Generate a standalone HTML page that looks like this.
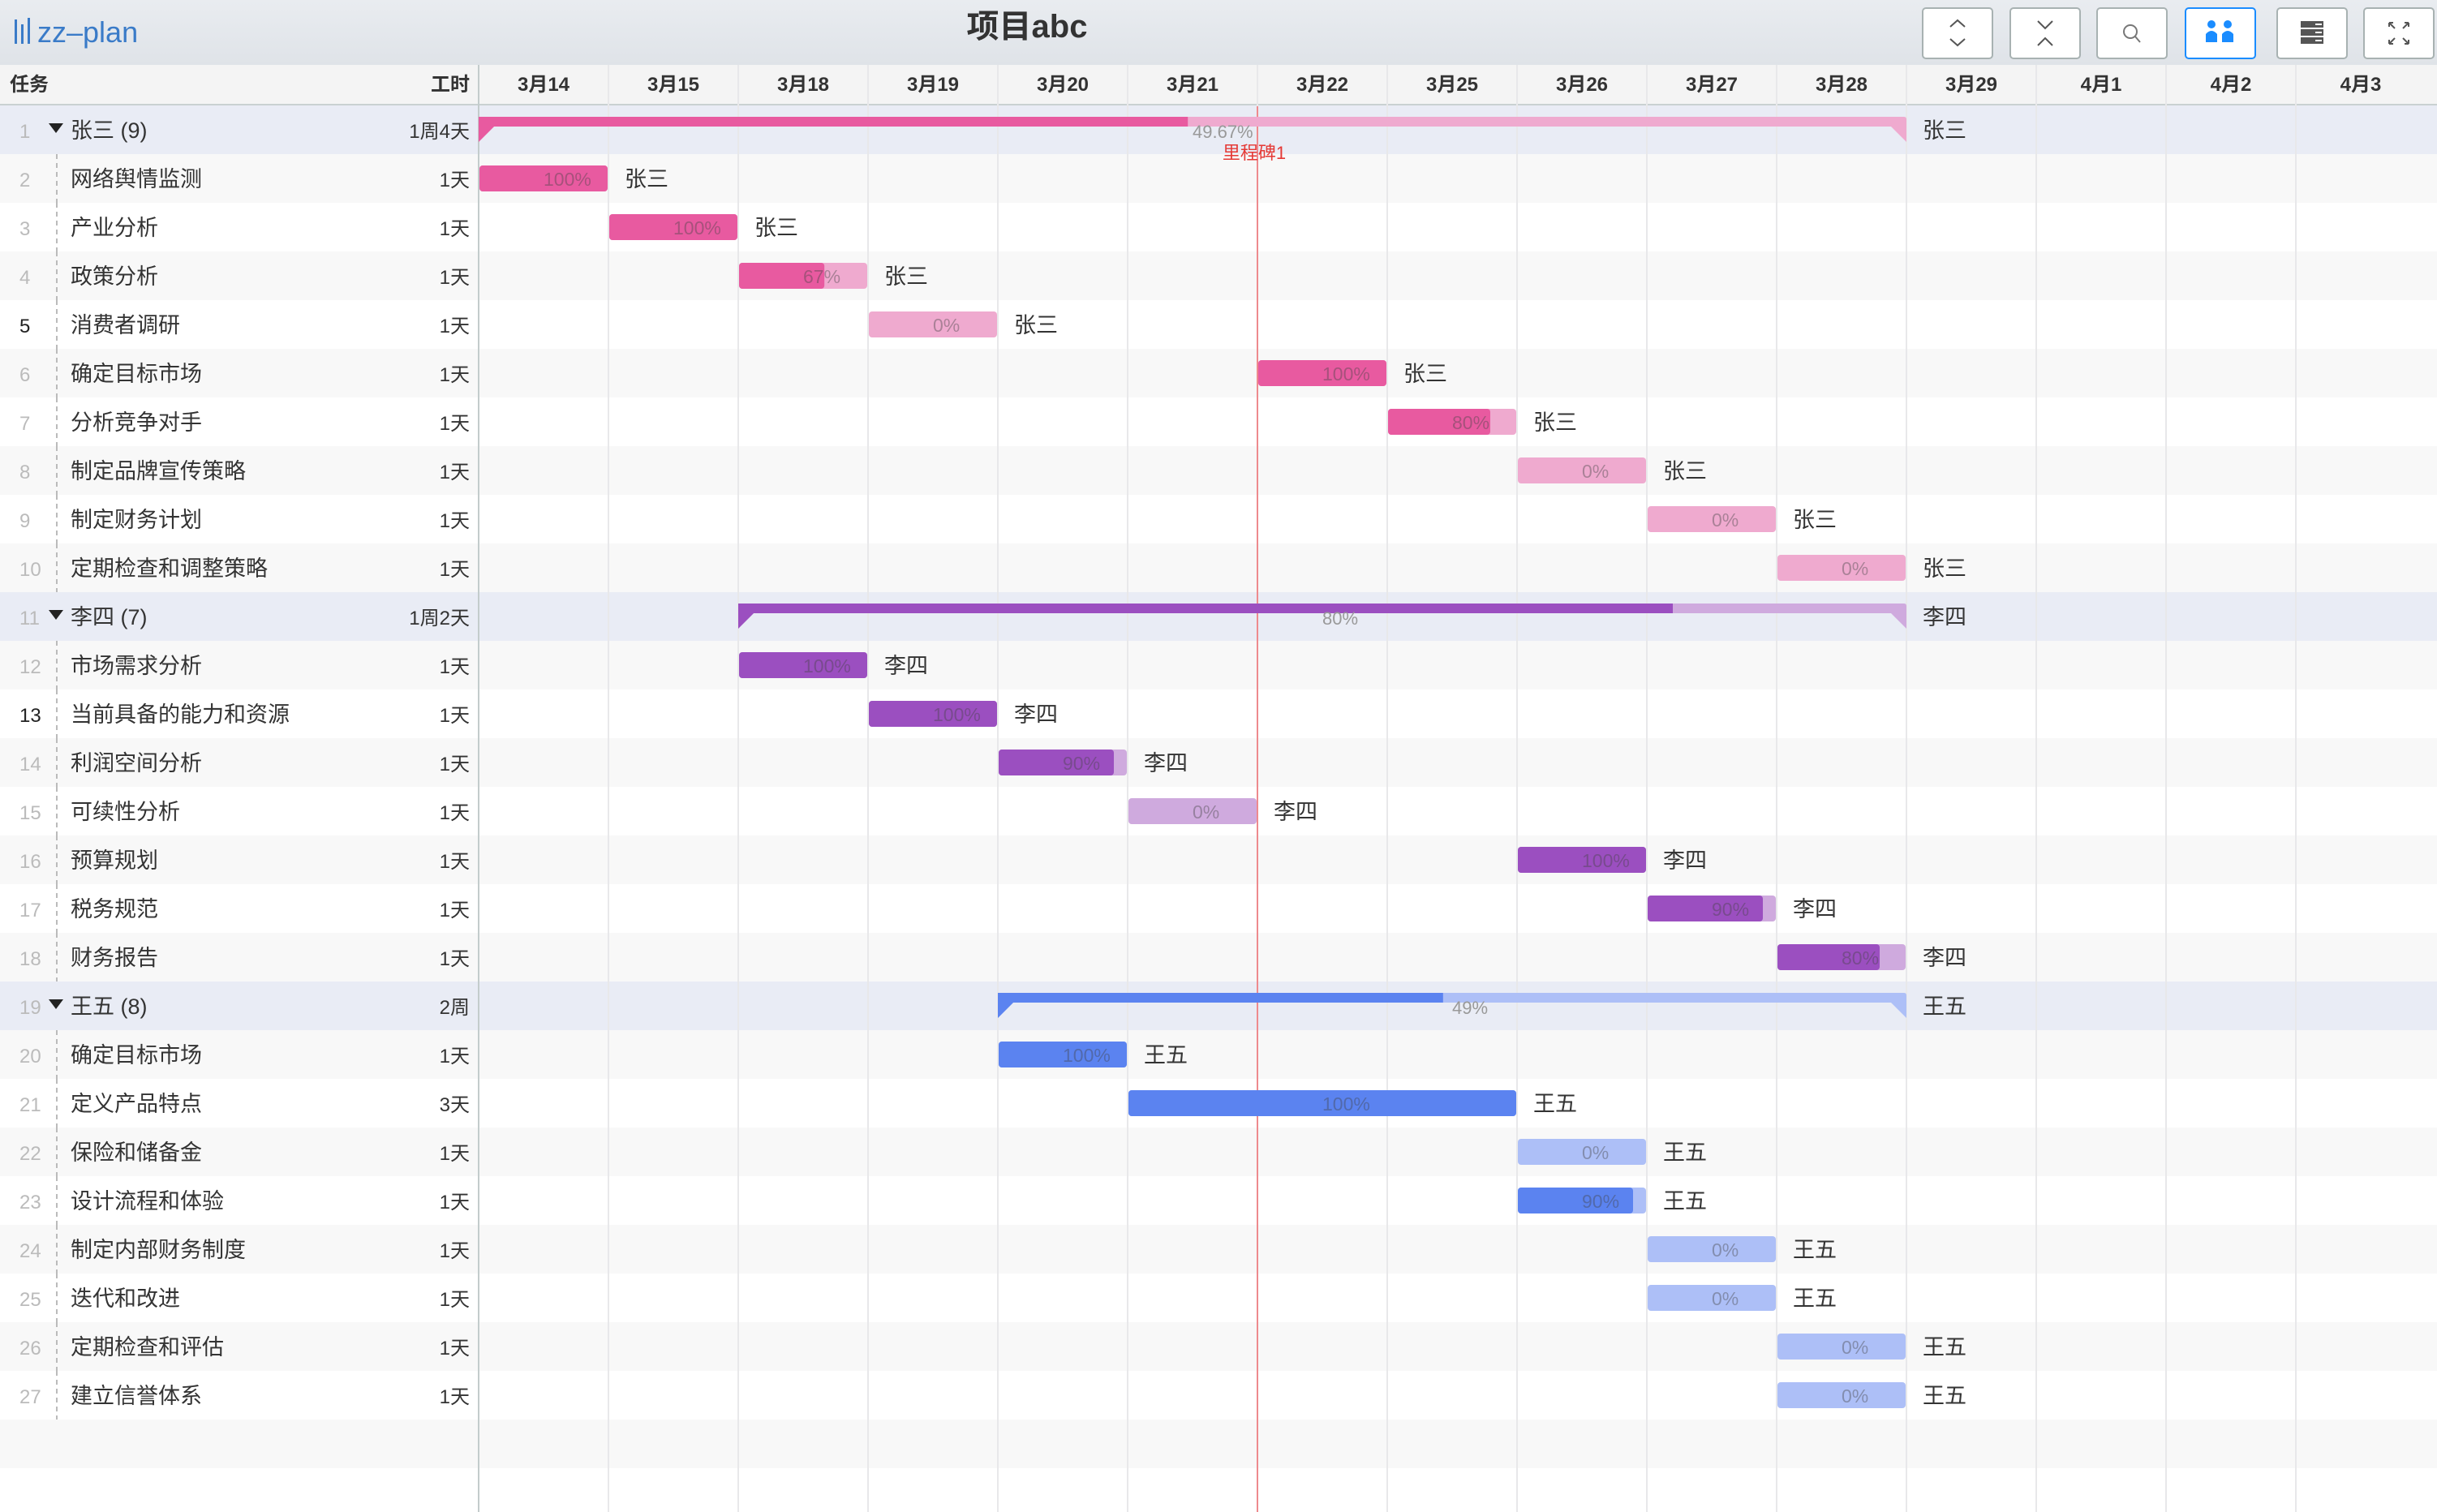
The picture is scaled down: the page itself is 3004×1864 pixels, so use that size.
<!DOCTYPE html>
<html><head><meta charset="utf-8"><style>
html,body{margin:0;padding:0;width:3004px;height:1864px;overflow:hidden;background:#fff;font-family:"Liberation Sans","Noto Sans CJK SC",sans-serif;}
svg text{font-family:"Liberation Sans","Noto Sans CJK SC",sans-serif;}
</style></head><body>
<svg id="g" width="3004" height="1864" viewBox="0 0 3004 1864" xmlns="http://www.w3.org/2000/svg">
<defs><linearGradient id="hdr" x1="0" y1="0" x2="0" y2="1"><stop offset="0" stop-color="#e9ecf0"/><stop offset="1" stop-color="#dfe3e8"/></linearGradient></defs>
<rect x="0" y="0" width="3004" height="80" fill="url(#hdr)"/>
<g>
<rect x="18" y="24" width="3" height="30" fill="#3a7bc8"/><rect x="26" y="30" width="3" height="24" fill="#3a7bc8"/><rect x="34" y="22" width="3" height="32" fill="#3a7bc8"/>
<text x="46" y="52" font-size="36" fill="#3a7bc8">zz–plan</text></g>
<text x="1266" y="46" font-size="40" font-weight="bold" fill="#333" text-anchor="middle">项目abc</text>
<g id="btns"></g>
<rect x="0" y="80" width="3004" height="48" fill="#f4f4f4"/>
<rect x="0" y="128" width="3004" height="3" fill="#c9d1d1"/>
<text x="12" y="112" font-size="24" font-weight="bold" fill="#333">任务</text>
<text x="579" y="112" font-size="24" font-weight="bold" fill="#333" text-anchor="end">工时</text>
<g id="rows"></g><g id="grid"></g><g id="left"></g><g id="bars"></g>
</svg>
<script>
const days=["3月14","3月15","3月18","3月19","3月20","3月21","3月22","3月25","3月26","3月27","3月28","3月29","4月1","4月2","4月3"];
const names=["张三 (9)","网络舆情监测","产业分析","政策分析","消费者调研","确定目标市场","分析竞争对手","制定品牌宣传策略","制定财务计划","定期检查和调整策略","李四 (7)","市场需求分析","当前具备的能力和资源","利润空间分析","可续性分析","预算规划","税务规范","财务报告","王五 (8)","确定目标市场","定义产品特点","保险和储备金","设计流程和体验","制定内部财务制度","迭代和改进","定期检查和评估","建立信誉体系"];
const hours=["1周4天","1天","1天","1天","1天","1天","1天","1天","1天","1天","1周2天","1天","1天","1天","1天","1天","1天","1天","2周","1天","3天","1天","1天","1天","1天","1天","1天"];
const starts=[0,0,1,2,3,6,7,8,9,10,2,2,3,4,5,8,9,10,4,4,5,8,8,9,9,10,10];
const durations=[11,1,1,1,1,1,1,1,1,1,9,1,1,1,1,1,1,1,7,1,3,1,1,1,1,1,1];
const progress=[49.67,100,100,67,0,100,80,0,0,0,80,100,100,90,0,100,90,80,49,100,100,0,90,0,0,0,0];
const owners=["张三","张三","张三","张三","张三","张三","张三","张三","张三","张三","李四","李四","李四","李四","李四","李四","李四","李四","王五","王五","王五","王五","王五","王五","王五","王五","王五"];
const isGroup=[1,0,0,0,0,0,0,0,0,0,1,0,0,0,0,0,0,0,1,0,0,0,0,0,0,0,0];
const milestoneDay=6, milestoneLabel="里程碑1";
const NS="http://www.w3.org/2000/svg";
const X0=590,CW=160,Y0=130,RH=60;
const xs=d=>X0+d*CW, ys=i=>Y0+i*RH;
const colors={"张三":["#e85aa0","#efaacf"],"李四":["#9b4fc0","#cfaade"],"王五":["#5b83f0","#adbff7"]};
function el(p,t,a,txt){const e=document.createElementNS(NS,t);for(const k in a)e.setAttribute(k,a[k]);if(txt!=null)e.textContent=txt;p.appendChild(e);return e;}
const G=id=>document.getElementById(id);
const bx=[2370,2478,2585,2694,2807,2914],bn=["expand-all-button","collapse-all-button","search-button","group-by-person-button","layout-button","fullscreen-button"];
bx.forEach((x,i)=>{const g=el(G('btns'),'g',{});


el(g,'rect',{x:x,y:10,width:86,height:62,rx:4,fill:'#fff',stroke:i==3?'#1a8cff':'#a8b2b2','stroke-width':2});
const cx=x+43;
if(i==0){el(g,'path',{d:`M${cx-9} 33 L${cx} 25 L${cx+9} 33 M${cx-9} 48 L${cx} 56 L${cx+9} 48`,stroke:'#555',fill:'none','stroke-width':2});}
if(i==1){el(g,'path',{d:`M${cx-9} 26 L${cx} 35 L${cx+9} 26 M${cx-9} 56 L${cx} 47 L${cx+9} 56`,stroke:'#555',fill:'none','stroke-width':2});}
if(i==2){el(g,'circle',{cx:cx-2,cy:39,r:8,stroke:'#777',fill:'none','stroke-width':2});el(g,'path',{d:`M${cx+4} 45 L${cx+10} 52`,stroke:'#777','stroke-width':2});}
if(i==3){[-12,8].forEach(o=>{el(g,'circle',{cx:cx+o+1,cy:30,r:5,fill:'#1a8cff'});el(g,'path',{d:`M${cx+o-6} 52 L${cx+o-6} 42 Q${cx+o+1} 34 ${cx+o+8} 42 L${cx+o+8} 52 Z`,fill:'#1a8cff'});});}
if(i==4){[26,36,46].forEach(y=>{el(g,'rect',{x:cx-14,y:y,width:28,height:8,fill:'#555'});el(g,'rect',{x:cx+4,y:y+3,width:8,height:2,fill:'#fff'});});}
if(i==5){el(g,'path',{d:`M${cx-12} 28 l7 7 M${cx-12} 28 l5 0 M${cx-12} 28 l0 5 M${cx+12} 28 l-7 7 M${cx+12} 28 l-5 0 M${cx+12} 28 l0 5 M${cx-12} 54 l7 -7 M${cx-12} 54 l5 0 M${cx-12} 54 l0 -5 M${cx+12} 54 l-7 -7 M${cx+12} 54 l-5 0 M${cx+12} 54 l0 -5`,stroke:'#555','stroke-width':2,fill:'none'});}
});
for(let i=0;i<names.length+1;i++){
 const bg=i<names.length&&isGroup[i]?'#e9ecf5':(i%2==1?'#f8f8f8':'#fff');
 const r=el(G('rows'),'rect',{x:0,y:ys(i),width:3004,height:RH,fill:bg});
 
 
}
days.forEach((d,i)=>{
 const t=el(G('grid'),'text',{x:xs(i)+CW/2,y:112,'font-size':24,'font-weight':'bold',fill:'#333','text-anchor':'middle'},d);
 
 
 if(i>0){const l=el(G('grid'),'line',{x1:xs(i),y1:80,x2:xs(i),y2:1864,stroke:'#e8e8ea','stroke-width':2});
 
 }
});
el(G('grid'),'line',{x1:590,y1:80,x2:590,y2:1864,stroke:'#c3cccc','stroke-width':2});
const mx=xs(milestoneDay);
const ml=el(G('grid'),'line',{x1:mx,y1:131,x2:mx,y2:1864,stroke:'#ee8a8e','stroke-width':2});


const mt=el(G('grid'),'text',{x:mx-4,y:196,'font-size':22,fill:'#e53935','text-anchor':'middle'},milestoneLabel);


names.forEach((n,i)=>{
 const y=ys(i),c=y+40;
 const g=el(G('left'),'g',{});
 
 
 const bold=(i==4||i==12);
 el(g,'text',{x:24,y:c,'font-size':24,fill:bold?'#222':'#bbb'},String(i+1));
 if(isGroup[i]){el(g,'path',{d:`M60 ${y+22} L78 ${y+22} L69 ${y+34} Z`,fill:'#222'});}
 else{el(g,'line',{x1:70,y1:y,x2:70,y2:y+RH,stroke:'#bbb','stroke-width':2,'stroke-dasharray':'6,5'});}
 el(g,'text',{x:87,y:c,'font-size':27,fill:'#333'},n);
 el(g,'text',{x:579,y:c,'font-size':24,fill:'#333','text-anchor':'end'},hours[i]);
});
names.forEach((n,i)=>{
 const y=ys(i),x0=xs(starts[i]),x1=xs(starts[i]+durations[i]),w=x1-x0;
 const [dk,lt]=colors[owners[i]];const px=x0+w*progress[i]/100;
 const g=el(G('bars'),'g',{});
 if(isGroup[i]){
  
  
  const t=y+14,b=y+26;
  el(g,'path',{d:`M${x0} ${t} L${x1-3} ${t} Q${x1} ${t} ${x1} ${t+3} L${x1} ${y+45} L${x1-19} ${b} L${x0+19} ${b} L${x0} ${y+45} Z`,fill:lt});
  el(g,'path',{d:`M${x0} ${t} L${px} ${t} L${px} ${b} L${x0+19} ${b} L${x0} ${y+45} Z`,fill:dk});
  el(g,'text',{x:(x0+x1)/2,y:y+40,'font-size':22,fill:'#999'},progress[i]+'%');
 }else{
  
  
  el(g,'rect',{x:x0+1,y:y+14,width:w-2,height:32,rx:4,fill:lt});
  if(progress[i]>0)el(g,'rect',{x:x0+1,y:y+14,width:Math.max(0,px-x0-2),height:32,rx:4,fill:dk});
  el(g,'text',{x:(x0+x1)/2,y:y+39,'font-size':23,fill:'#444','fill-opacity':0.4},progress[i]+'%');
 }
 const o=el(G('bars'),'text',{x:x1+20,y:y+40,'font-size':27,fill:'#333'},owners[i]);
 
 
});
</script>
</body></html>
